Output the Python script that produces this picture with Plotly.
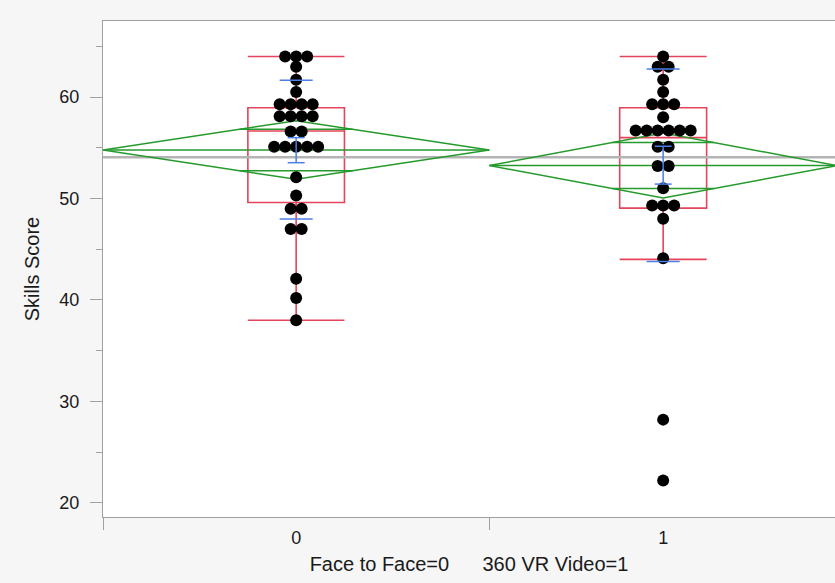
import plotly.graph_objects as go
from collections import Counter

# ---------------- data ----------------
group_labels = ["0", "1"]
scores_f2f = [64.0, 64.0, 64.0, 63.0, 61.7, 60.5, 59.3, 59.3, 59.3, 59.3,
              58.1, 58.1, 58.1, 58.1, 56.6, 56.6, 55.1, 55.1, 55.1, 55.1,
              55.1, 52.1, 50.3, 49.0, 49.0, 47.0, 47.0, 42.1, 40.2, 38.0]
scores_vr = [64.0, 63.0, 63.0, 61.7, 60.5, 59.3, 59.3, 59.3, 58.0, 56.7,
             56.7, 56.7, 56.7, 56.7, 56.7, 55.1, 55.1, 53.2, 53.2, 51.0,
             49.3, 49.3, 49.3, 48.0, 44.1, 28.2, 22.2]

group_means = [54.78, 53.25]
ci_half = [2.89, 3.20]            # means-diamond half height
se_lo = [53.53, 51.42]
se_hi = [56.00, 55.15]
sd_lo = [47.98, 43.80]
sd_hi = [61.67, 62.76]
box_q1 = [49.60, 49.05]
box_median = [56.65, 56.00]
box_q3 = [58.95, 58.95]
whisker_lo = [38.0, 44.0]
whisker_hi = [64.0, 64.0]
grand_mean = 54.06

y_ticks = [20, 30, 40, 50, 60]
x_title = "Face to Face=0" + "\u00a0" * 6 + "360 VR Video=1"
y_title = "Skills Score"

# ---------------- styling ----------------
RED = "#e5445c"
GREEN = "#259a2c"
BLUE = "#4a7fe6"
GRAY_LINE = "#b4b4b4"
AXIS = "#a0a0a0"
FONT = "Liberation Sans, Arial, sans-serif"

W, H = 835, 583
ML, MR, MT, MB = 103, 0, 21, 66

groups = [scores_f2f, scores_vr]
sizes = [len(g) for g in groups]
starts = [0, sizes[0]]
ends = [starts[i] + sizes[i] for i in range(2)]
centers = [starts[i] + sizes[i] / 2 for i in range(2)]
total = sum(sizes)
px_per_unit = (837 - ML) / total
x_max = (W - ML - MR) / px_per_unit

dot_spacing = 11.0 / px_per_unit
fig = go.Figure()

# grand mean line
fig.add_trace(go.Scatter(x=[0, x_max], y=[grand_mean, grand_mean], mode="lines",
                         line=dict(color=GRAY_LINE, width=2.5), hoverinfo="skip",
                         showlegend=False))

# means diamonds
for i in range(2):
    m, h, s, e, c = group_means[i], ci_half[i], starts[i], ends[i], centers[i]
    fig.add_trace(go.Scatter(x=[s, c, e, c, s], y=[m, m + h, m, m - h, m], mode="lines",
                             line=dict(color=GREEN, width=1.5), hoverinfo="skip",
                             showlegend=False))
    fig.add_trace(go.Scatter(x=[s, e], y=[m, m], mode="lines",
                             line=dict(color=GREEN, width=1.5), hoverinfo="skip",
                             showlegend=False))
    off = h / 2 ** 0.5
    half = (e - s) / 2 * (1 - 1 / 2 ** 0.5)
    for yy in (m + off, m - off):
        fig.add_trace(go.Scatter(x=[c - half, c + half], y=[yy, yy], mode="lines",
                                 line=dict(color=GREEN, width=1.5), hoverinfo="skip",
                                 showlegend=False))

# box plots
for i in range(2):
    fig.add_trace(go.Box(x=[centers[i]], q1=[box_q1[i]], median=[box_median[i]],
                         q3=[box_q3[i]], lowerfence=[whisker_lo[i]],
                         upperfence=[whisker_hi[i]], width=0.25 * sizes[i],
                         whiskerwidth=1, fillcolor="rgba(0,0,0,0)",
                         line=dict(color=RED, width=1.6), boxpoints=False,
                         hoverinfo="skip", showlegend=False))

# points (stacked side by side for identical values)
for i, g in enumerate(groups):
    xs, ys = [], []
    for v, k in Counter(g).items():
        for j in range(k):
            xs.append(centers[i] + (j - (k - 1) / 2) * dot_spacing)
            ys.append(v)
    fig.add_trace(go.Scatter(x=xs, y=ys, mode="markers",
                             marker=dict(color="black", size=12, line=dict(width=0)),
                             hoverinfo="skip", showlegend=False))

# std dev & std error marks
for i in range(2):
    c = centers[i]
    wsd = 33 / px_per_unit / 2
    wse = 17 / px_per_unit / 2
    for yy in (sd_lo[i], sd_hi[i]):
        fig.add_trace(go.Scatter(x=[c - wsd, c + wsd], y=[yy, yy], mode="lines",
                                 line=dict(color=BLUE, width=1.5), hoverinfo="skip",
                                 showlegend=False))
    fig.add_trace(go.Scatter(x=[c - wse, c + wse, None, c, c, None, c - wse, c + wse],
                             y=[se_hi[i], se_hi[i], None, se_hi[i], se_lo[i], None,
                                se_lo[i], se_lo[i]],
                             mode="lines", line=dict(color=BLUE, width=1.5),
                             hoverinfo="skip", showlegend=False))

fig.update_layout(
    width=W, height=H,
    margin=dict(l=ML, r=MR, t=MT, b=MB, autoexpand=False),
    paper_bgcolor="#f6f6f6", plot_bgcolor="white",
    font=dict(family=FONT, size=18, color="#1a1a1a"),
    showlegend=False,
)
fig.update_xaxes(
    range=[0, x_max], tickvals=centers, ticktext=group_labels, ticks="",
    showgrid=False, zeroline=False, showline=True, linecolor=AXIS, linewidth=1,
    mirror=True, ticklabelstandoff=4, automargin=False,
    minor=dict(ticks="outside", tick0=0, dtick=sizes[0], ticklen=12,
               tickcolor=AXIS, tickwidth=1, showgrid=False),
    title=dict(text=x_title, font=dict(size=20), standoff=10),
)
fig.update_yaxes(
    range=[18.6, 67.5], tickvals=y_ticks, ticks="outside", ticklen=12,
    tickcolor=AXIS, tickwidth=1, showgrid=False, zeroline=False, showline=True,
    linecolor=AXIS, linewidth=1, ticklabelstandoff=7, automargin=False,
    minor=dict(ticks="outside", dtick=5, ticklen=6, tickcolor=AXIS, showgrid=False),
    title=dict(text=y_title, font=dict(size=20), standoff=14),
)

fig.write_html(
    "out.html",
    config={"displayModeBar": False},
    post_script="document.body.style.margin='0';document.body.style.overflow='hidden';",
)
